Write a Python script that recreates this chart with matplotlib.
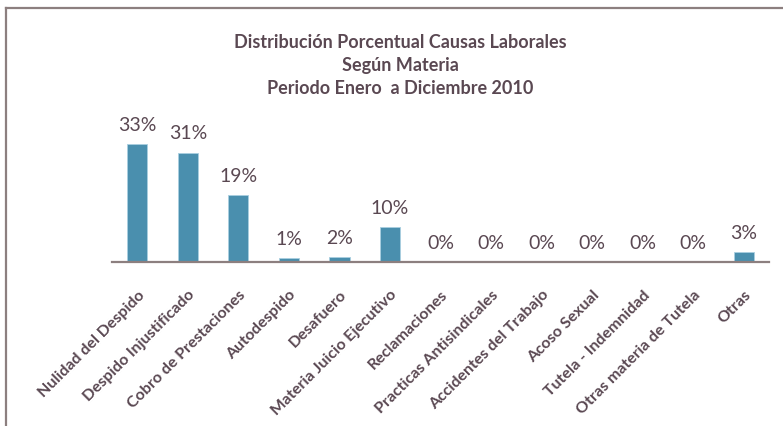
import matplotlib
matplotlib.use("Agg")
import matplotlib.pyplot as plt
from matplotlib.lines import Line2D

# Datos
categorias = ["Nulidad del Despido", "Despido Injustificado", "Cobro de Prestaciones",
              "Autodespido", "Desafuero", "Materia Juicio Ejecutivo", "Reclamaciones",
              "Practicas Antisindicales", "Accidentes del Trabajo", "Acoso Sexual",
              "Tutela - Indemnidad", "Otras materia de Tutela", "Otras"]
porcentajes = [33.2, 30.9, 19.0, 1.1, 1.5, 9.9, 0, 0, 0, 0, 0, 0, 2.8]
etiquetas = ["33%", "31%", "19%", "1%", "2%", "10%", "0%", "0%", "0%", "0%", "0%", "0%", "3%"]

color_barra = "#4a8fae"
color_texto = "#5a4852"
color_eje = "#8c7f7f"

plt.rcParams['font.family'] = ['Lato', 'DejaVu Sans']

fig = plt.figure(figsize=(7.83, 4.27), dpi=100)

# Marco del gráfico (solo borde izquierdo y superior visibles)
fig.add_artist(Line2D([6/783, 6/783], [0, 1 - 9/427], transform=fig.transFigure,
                      color=color_eje, lw=1.6))
fig.add_artist(Line2D([6/783, 1], [1 - 9/427, 1 - 9/427], transform=fig.transFigure,
                      color=color_eje, lw=1.6))

ax = fig.add_axes([112/783, 1 - 263/427, 657/783, 124/427])
x = range(len(categorias))
ax.bar(x, porcentajes, width=0.4, color=color_barra, edgecolor="#a9cfe0", linewidth=0.6, zorder=2)

for i, (v, t) in enumerate(zip(porcentajes, etiquetas)):
    ax.annotate(t, (i, v), xytext=(0, 8), textcoords="offset points",
                ha="center", va="bottom", fontsize=14, color=color_texto, clip_on=False)

ax.set_xlim(-0.5, len(categorias) - 0.5)
ax.set_ylim(0, 35)
ax.set_yticks([])
ax.set_xticks(list(x))
ax.set_xticklabels(categorias, rotation=45, ha="right", rotation_mode="anchor",
                   fontsize=11.5, fontweight="bold", color=color_texto)
ax.tick_params(axis="x", length=0, pad=18)
for s in ["top", "right", "left"]:
    ax.spines[s].set_visible(False)
ax.spines["bottom"].set_color(color_eje)
ax.spines["bottom"].set_linewidth(1.6)
ax.patch.set_visible(False)

fig.text(400/783, 1 - 42/427, "Distribución Porcentual Causas Laborales", ha="center", va="center",
         fontsize=13, fontweight="bold", color=color_texto)
fig.text(400/783, 1 - 66/427, "Según Materia", ha="center", va="center",
         fontsize=13, fontweight="bold", color=color_texto)
fig.text(400/783, 1 - 89/427, "Periodo Enero  a Diciembre 2010", ha="center", va="center",
         fontsize=13, fontweight="bold", color=color_texto)

fig.savefig("out.png", dpi=100)
